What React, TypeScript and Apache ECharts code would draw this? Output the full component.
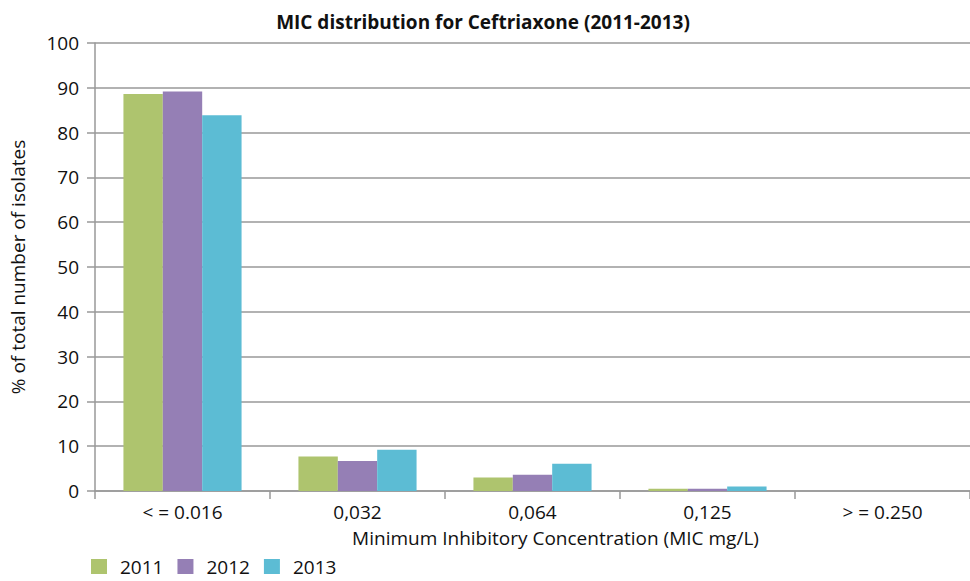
import React, { useEffect, useRef } from "react";
import * as echarts from "echarts";

const categories = ["< = 0.016", "0,032", "0,064", "0,125", "> = 0.250"];
const years = ["2011", "2012", "2013"];
const values2011 = [88.6, 7.7, 3.0, 0.5, 0];
const values2012 = [89.2, 6.7, 3.6, 0.5, 0];
const values2013 = [83.9, 9.2, 6.1, 1.0, 0];
const colors = ["#AEC46E", "#957FB5", "#5CBCD4"];
const yTicks = { min: 0, max: 100, interval: 10 };

const FONT = "'Open Sans', 'Noto Sans', sans-serif";

export default function App() {
  const ref = useRef<HTMLDivElement>(null);
  useEffect(() => {
    if (!ref.current) return;
    const chart = echarts.init(ref.current, null, { renderer: "svg" });
    const seriesData = [values2011, values2012, values2013];
    chart.setOption({
      animation: false,
      backgroundColor: "#ffffff",
      title: {
        text: "MIC distribution for Ceftriaxone (2011-2013)",
        left: 478,
        textAlign: "center",
        top: 7,
        textStyle: { fontFamily: FONT, fontSize: 19, fontWeight: "bold", color: "#111" },
      },
      legend: {
        left: 86,
        top: 552,
        itemWidth: 16,
        itemHeight: 15,
        itemGap: 14,
        icon: "rect",
        textStyle: { fontFamily: FONT, fontSize: 19, color: "#111", padding: [0, 0, 0, 8] },
        data: years,
      },
      grid: { left: 95, right: -6, top: 43, bottom: 90, containLabel: false },
      xAxis: {
        type: "category",
        data: categories,
        name: "Minimum Inhibitory Concentration (MIC mg/L)",
        nameLocation: "middle",
        nameGap: 37,
        nameTextStyle: { fontFamily: FONT, fontSize: 19, color: "#111", padding: [0, 0, 0, 46] },
        axisLine: { lineStyle: { color: "#999", width: 1.5 } },
        axisTick: { show: true, length: 8, lineStyle: { color: "#999", width: 1.5 } },
        axisLabel: { fontFamily: FONT, fontSize: 19, color: "#111", margin: 11 },
      },
      yAxis: {
        type: "value",
        min: yTicks.min,
        max: yTicks.max,
        interval: yTicks.interval,
        name: "% of total number of isolates",
        nameLocation: "middle",
        nameGap: 68,
        nameTextStyle: { fontFamily: FONT, fontSize: 19, color: "#111" },
        axisLine: { show: true, lineStyle: { color: "#999", width: 1.5 } },
        axisTick: { show: true, length: 8, lineStyle: { color: "#999", width: 1.5 } },
        axisLabel: { fontFamily: FONT, fontSize: 19, color: "#111", margin: 16 },
        splitLine: { lineStyle: { color: "#999", width: 1.5 } },
      },
      series: years.map((y, i) => ({
        name: y,
        type: "bar",
        data: seriesData[i],
        itemStyle: { color: colors[i] },
        barGap: "0%",
        barCategoryGap: "32.5%",
      })),
    });
    return () => chart.dispose();
  }, []);
  return <div ref={ref} style={{ width: 970, height: 581, position: "absolute", left: 0, top: 0 }} />;
}
